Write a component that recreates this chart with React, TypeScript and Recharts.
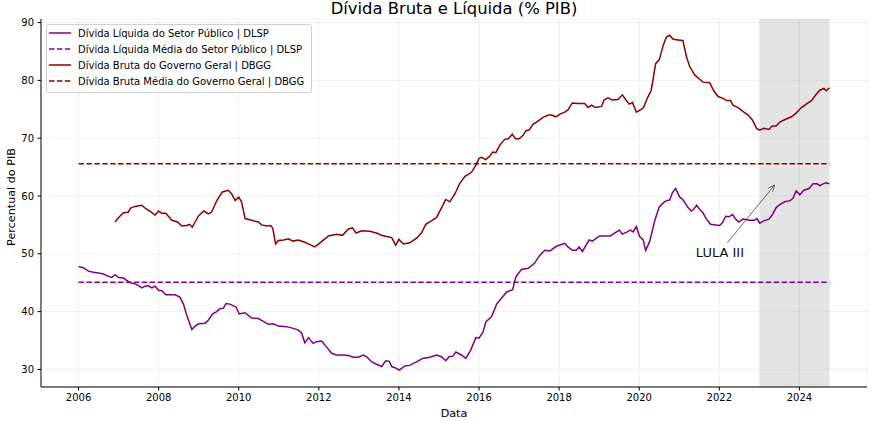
import React from 'react'
import {
  LineChart, Line, XAxis, YAxis, CartesianGrid, Legend, ReferenceArea, ReferenceLine, Label,
} from 'recharts'

// Dívida Líquida do Setor Público (% PIB) – datas em ano fracionário
const dlspDates = [
  2006.00, 2006.12, 2006.25, 2006.37, 2006.50, 2006.62, 2006.75, 2006.83, 2006.91, 2007.00,
  2007.12, 2007.20, 2007.29, 2007.41, 2007.50, 2007.58, 2007.66, 2007.74, 2007.83, 2007.91,
  2008.00, 2008.08, 2008.18, 2008.28, 2008.41, 2008.53, 2008.62, 2008.70, 2008.83, 2008.91,
  2009.00, 2009.16, 2009.24, 2009.35, 2009.45, 2009.53, 2009.62, 2009.68, 2009.78, 2009.87,
  2009.93, 2010.01, 2010.16, 2010.32, 2010.49, 2010.57, 2010.74, 2010.86, 2010.99, 2011.20,
  2011.36, 2011.49, 2011.57, 2011.65, 2011.74, 2011.86, 2011.94, 2012.07, 2012.19, 2012.32,
  2012.44, 2012.61, 2012.74, 2012.86, 2012.98, 2013.11, 2013.19, 2013.32, 2013.44, 2013.57,
  2013.67, 2013.76, 2013.82, 2013.90, 2014.01, 2014.15, 2014.27, 2014.44, 2014.59, 2014.77,
  2014.94, 2015.06, 2015.17, 2015.25, 2015.35, 2015.42, 2015.56, 2015.67, 2015.79, 2015.92,
  2016.00, 2016.10, 2016.17, 2016.31, 2016.44, 2016.56, 2016.69, 2016.84, 2016.92, 2017.06,
  2017.23, 2017.39, 2017.50, 2017.64, 2017.77, 2017.93, 2018.14, 2018.22, 2018.33, 2018.43,
  2018.50, 2018.58, 2018.75, 2018.83, 2019.01, 2019.27, 2019.35, 2019.50, 2019.58, 2019.70,
  2019.78, 2019.85, 2019.93, 2020.01, 2020.10, 2020.16, 2020.26, 2020.39, 2020.50, 2020.60,
  2020.68, 2020.76, 2020.83, 2020.91, 2021.01, 2021.09, 2021.22, 2021.30, 2021.36, 2021.43,
  2021.51, 2021.59, 2021.68, 2021.78, 2021.91, 2022.01, 2022.08, 2022.16, 2022.24, 2022.33,
  2022.41, 2022.49, 2022.59, 2022.76, 2022.88, 2022.94, 2023.01, 2023.11, 2023.24, 2023.32,
  2023.42, 2023.51, 2023.63, 2023.77, 2023.84, 2023.92, 2024.01, 2024.11, 2024.24, 2024.34,
  2024.44, 2024.51, 2024.59, 2024.67, 2024.75,
]
const dlspValues = [
  47.8, 47.6, 47.0, 46.8, 46.7, 46.5, 46.1, 45.9, 46.4, 45.9,
  45.8, 45.4, 45.0, 44.8, 44.5, 44.1, 44.4, 44.5, 44.1, 44.4,
  43.7, 43.6, 42.9, 42.9, 42.9, 42.5, 41.3, 39.4, 36.9, 37.5,
  37.9, 38.0, 38.5, 39.6, 40.0, 40.5, 40.6, 41.4, 41.3, 41.0,
  40.8, 39.6, 39.8, 38.9, 38.8, 38.5, 37.8, 37.9, 37.5, 37.4,
  37.1, 36.8, 36.3, 34.6, 35.5, 34.5, 34.8, 34.9, 33.9, 32.8,
  32.5, 32.5, 32.4, 32.1, 32.1, 32.5, 32.2, 31.3, 30.9, 30.5,
  31.5, 31.4, 30.5, 30.3, 29.9, 30.6, 30.7, 31.3, 31.9, 32.1,
  32.5, 32.2, 31.5, 32.2, 32.3, 33.0, 32.5, 31.9, 33.3, 35.5,
  35.4, 36.5, 38.2, 39.1, 41.3, 42.3, 43.4, 43.8, 46.0, 47.3,
  47.5, 48.4, 49.6, 50.6, 50.5, 51.3, 51.8, 51.2, 50.6, 50.6,
  51.2, 50.4, 52.4, 52.2, 53.1, 53.1, 53.4, 54.1, 53.4, 53.8,
  54.1, 53.8, 54.7, 53.0, 52.4, 50.6, 52.1, 55.8, 58.1, 58.8,
  59.2, 59.3, 60.6, 61.3, 59.8, 59.4, 58.0, 57.4, 57.7, 58.4,
  57.7, 57.1, 56.0, 55.1, 55.0, 54.9, 55.4, 56.5, 56.4, 56.8,
  56.0, 55.5, 56.0, 55.8, 55.8, 56.1, 55.3, 55.7, 56.0, 56.7,
  58.0, 58.5, 59.0, 59.2, 59.6, 60.9, 60.2, 61.0, 61.3, 62.1,
  62.1, 61.8, 62.1, 62.3, 62.1,
]

// Dívida Bruta do Governo Geral (% PIB)
const dbggDates = [
  2006.91, 2007.02, 2007.12, 2007.24, 2007.30, 2007.41, 2007.58, 2007.68, 2007.80, 2007.91,
  2008.00, 2008.08, 2008.18, 2008.33, 2008.47, 2008.58, 2008.70, 2008.77, 2008.84, 2008.91,
  2009.00, 2009.13, 2009.24, 2009.32, 2009.46, 2009.59, 2009.74, 2009.82, 2009.91, 2010.00,
  2010.07, 2010.16, 2010.32, 2010.49, 2010.57, 2010.70, 2010.80, 2010.85, 2010.92, 2010.99,
  2011.12, 2011.24, 2011.35, 2011.49, 2011.65, 2011.78, 2011.90, 2012.03, 2012.24, 2012.44,
  2012.59, 2012.74, 2012.84, 2012.93, 2013.07, 2013.27, 2013.44, 2013.57, 2013.69, 2013.82,
  2013.92, 2014.00, 2014.11, 2014.27, 2014.44, 2014.56, 2014.67, 2014.81, 2014.94, 2015.06,
  2015.17, 2015.27, 2015.40, 2015.52, 2015.65, 2015.81, 2015.90, 2016.00, 2016.06, 2016.17,
  2016.27, 2016.34, 2016.42, 2016.52, 2016.64, 2016.73, 2016.83, 2016.91, 2017.00, 2017.10,
  2017.17, 2017.25, 2017.35, 2017.48, 2017.60, 2017.73, 2017.81, 2017.92, 2018.03, 2018.14,
  2018.22, 2018.33, 2018.47, 2018.64, 2018.72, 2018.81, 2018.91, 2019.06, 2019.12, 2019.22,
  2019.33, 2019.47, 2019.58, 2019.66, 2019.75, 2019.83, 2019.93, 2020.05, 2020.11, 2020.20,
  2020.30, 2020.41, 2020.50, 2020.60, 2020.68, 2020.76, 2020.85, 2020.97, 2021.09, 2021.18,
  2021.26, 2021.39, 2021.51, 2021.59, 2021.76, 2021.86, 2021.97, 2022.09, 2022.18, 2022.28,
  2022.34, 2022.47, 2022.58, 2022.72, 2022.83, 2022.93, 2023.01, 2023.11, 2023.24, 2023.32,
  2023.42, 2023.51, 2023.63, 2023.80, 2023.91, 2024.05, 2024.17, 2024.30, 2024.41, 2024.51,
  2024.61, 2024.67, 2024.75,
]
const dbggValues = [
  55.5, 56.4, 57.1, 57.2, 57.9, 58.2, 58.4, 57.8, 57.3, 56.7,
  57.4, 57.0, 57.0, 55.8, 55.5, 54.8, 54.9, 55.1, 54.6, 55.5,
  56.6, 57.4, 56.9, 57.2, 59.3, 60.7, 61.0, 60.4, 59.2, 59.8,
  59.0, 56.1, 55.8, 55.5, 55.0, 54.8, 54.9, 54.4, 51.7, 52.3,
  52.4, 52.6, 52.2, 52.4, 52.0, 51.6, 51.2, 51.9, 53.1, 53.4,
  53.2, 54.3, 54.5, 53.6, 54.0, 53.9, 53.6, 53.2, 53.0, 52.8,
  51.5, 52.5, 51.7, 51.9, 52.7, 53.6, 55.1, 55.7, 56.3, 57.9,
  59.4, 59.0, 60.4, 62.2, 63.4, 64.1, 65.1, 66.5, 66.7, 66.3,
  66.9, 67.6, 67.5, 68.8, 69.8, 69.9, 70.7, 69.9, 69.9, 70.5,
  71.3, 71.4, 72.4, 73.0, 73.6, 74.0, 74.0, 73.7, 74.2, 74.5,
  74.9, 76.1, 76.0, 76.0, 75.3, 75.7, 75.3, 75.5, 76.6, 77.0,
  76.6, 76.7, 77.5, 76.7, 75.9, 76.2, 74.5, 75.0, 75.3, 76.9,
  78.3, 82.9, 83.6, 86.1, 87.5, 87.8, 87.1, 87.0, 86.9, 84.1,
  82.4, 80.9, 80.2, 79.7, 79.6, 78.2, 77.2, 76.9, 76.5, 76.5,
  75.7, 75.3, 74.7, 74.0, 73.1, 71.7, 71.4, 71.7, 71.5, 72.1,
  72.1, 72.8, 73.2, 73.7, 74.3, 75.3, 75.9, 76.5, 77.5, 78.3,
  78.6, 78.2, 78.7,
]

// médias do período
const dlspMean = 45.1
const dbggMean = 65.6

const xTicks = [2006, 2008, 2010, 2012, 2014, 2016, 2018, 2020, 2022, 2024]
const yTicks = [30, 40, 50, 60, 70, 80, 90]

const lulaStart = 2023
const lulaEnd = 2024.75
const lulaLabel = 'LULA III'
const lulaArrow = [{ x: 2022.2, y: 51.9 }, { x: 2023.38, y: 61.9 }]

const FONT = '"DejaVu Sans", sans-serif'

const toRows = (dates: number[], values: number[]) =>
  dates.map((date, i) => ({ date, value: values[i] }))

const meanRows = (v: number) => [
  { date: dlspDates[0], value: v },
  { date: dlspDates[dlspDates.length - 1], value: v },
]

const series = [
  { key: 'dlsp', name: 'Dívida Líquida do Setor Público | DLSP', color: '#800080', dash: undefined, data: toRows(dlspDates, dlspValues) },
  { key: 'dlspMean', name: 'Dívida Líquida Média do Setor Público | DLSP', color: '#8b008b', dash: '5.5 2.4', data: meanRows(dlspMean) },
  { key: 'dbgg', name: 'Dívida Bruta do Governo Geral | DBGG', color: '#8b0000', dash: undefined, data: toRows(dbggDates, dbggValues) },
  { key: 'dbggMean', name: 'Dívida Bruta Média do Governo Geral | DBGG', color: '#8b0000', dash: '5.5 2.4', data: meanRows(dbggMean) },
]

function LegendBox() {
  return (
    <div
      style={{
        border: '1px solid #d0d0d0',
        borderRadius: 3,
        background: 'rgba(255,255,255,0.8)',
        padding: '0 7px 3px 2px',
        fontFamily: FONT,
        fontSize: 10,
        color: '#000',
      }}
    >
      {series.map((s) => (
        <div key={s.key} style={{ display: 'flex', alignItems: 'center', height: 16, whiteSpace: 'nowrap' }}>
          <svg width={22} height={16} style={{ marginRight: 7 }}>
            <line x1={0} y1={8} x2={22} y2={8} stroke={s.color} strokeWidth={1.5} strokeDasharray={s.dash} />
          </svg>
          <span>{s.name}</span>
        </div>
      ))}
    </div>
  )
}

function Arrow(props: any) {
  const { x1, y1, x2, y2 } = props
  const ang = Math.atan2(y2 - y1, x2 - x1)
  const len = 7
  const spread = 0.42
  const a1x = x2 - len * Math.cos(ang - spread)
  const a1y = y2 - len * Math.sin(ang - spread)
  const a2x = x2 - len * Math.cos(ang + spread)
  const a2y = y2 - len * Math.sin(ang + spread)
  return (
    <g>
      <line x1={x1} y1={y1} x2={x2} y2={y2} stroke="#444" strokeWidth={0.8} />
      <polyline points={`${a1x},${a1y} ${x2},${y2} ${a2x},${a2y}`} fill="none" stroke="#444" strokeWidth={0.8} />
      <text x={x1 - 31.5} y={y1 + 14.6} fontSize={13} fontFamily={FONT} fill="#111">{lulaLabel}</text>
    </g>
  )
}

export default function App() {
  const tick = { fontSize: 10, fill: '#000', fontFamily: FONT }
  return (
    <div style={{ position: 'absolute', left: 0, top: 0, width: 875, height: 421, background: '#fff' }}>
      <div
        style={{
          position: 'absolute', left: 41, width: 826, top: 1, textAlign: 'center',
          fontFamily: FONT, fontSize: 16.4, lineHeight: '16.4px', color: '#000', whiteSpace: 'nowrap',
        }}
      >
        Dívida Bruta e Líquida (% PIB)
      </div>
      <LineChart width={875} height={421} margin={{ top: 19, right: 8, left: 0, bottom: 0 }}>
        <CartesianGrid stroke="#b0b0b0" strokeOpacity={0.22} strokeWidth={0.8} />
        <ReferenceArea x1={lulaStart} x2={lulaEnd} fill="#808080" fillOpacity={0.22} stroke="none" ifOverflow="hidden" />
        <XAxis
          dataKey="date" type="number" domain={[2005.0625, 2025.6875]} ticks={xTicks} allowDataOverflow
          height={34} tickSize={3.5} tickMargin={3.5} tick={tick}
          axisLine={{ stroke: '#000' }} tickLine={{ stroke: '#000' }}
        >
          <Label
            content={({ viewBox }: any) => (
              <text x={viewBox.x + viewBox.width / 2} y={417} textAnchor="middle" fontSize={11.2} fontFamily={FONT} fill="#000">
                Data
              </text>
            )}
          />
        </XAxis>
        <XAxis xAxisId="top" orientation="top" type="number" domain={[2005.0625, 2025.6875]} height={0}
          tick={false} tickLine={false} axisLine={{ stroke: '#000' }} />
        <YAxis
          type="number" domain={[26.96, 90.62]} ticks={yTicks} allowDataOverflow
          width={41} tickSize={3.5} tickMargin={3.5} tick={tick}
          axisLine={{ stroke: '#000' }} tickLine={{ stroke: '#000' }}
        >
          <Label
            content={() => (
              <text x={15} y={197} transform="rotate(-90 15 197)" textAnchor="middle" fontSize={11.2} fontFamily={FONT} fill="#000">
                Percentual do PIB
              </text>
            )}
          />
        </YAxis>
        <YAxis yAxisId="right" orientation="right" type="number" domain={[26.96, 90.62]} width={0}
          tick={false} tickLine={false} axisLine={{ stroke: '#000' }} />
        {series.map((s) => (
          <Line
            key={s.key}
            data={s.data}
            dataKey="value"
            name={s.name}
            stroke={s.color}
            strokeWidth={1.5}
            strokeDasharray={s.dash}
            dot={false}
            activeDot={false}
            isAnimationActive={false}
          />
        ))}
        <ReferenceLine segment={lulaArrow} shape={(p: any) => <Arrow {...p} />} ifOverflow="visible" />
        <Legend
          layout="vertical" align="center" verticalAlign="middle"
          wrapperStyle={{ left: 46, top: 24, width: 'auto' }}
          content={() => <LegendBox />}
        />
      </LineChart>
    </div>
  )
}
